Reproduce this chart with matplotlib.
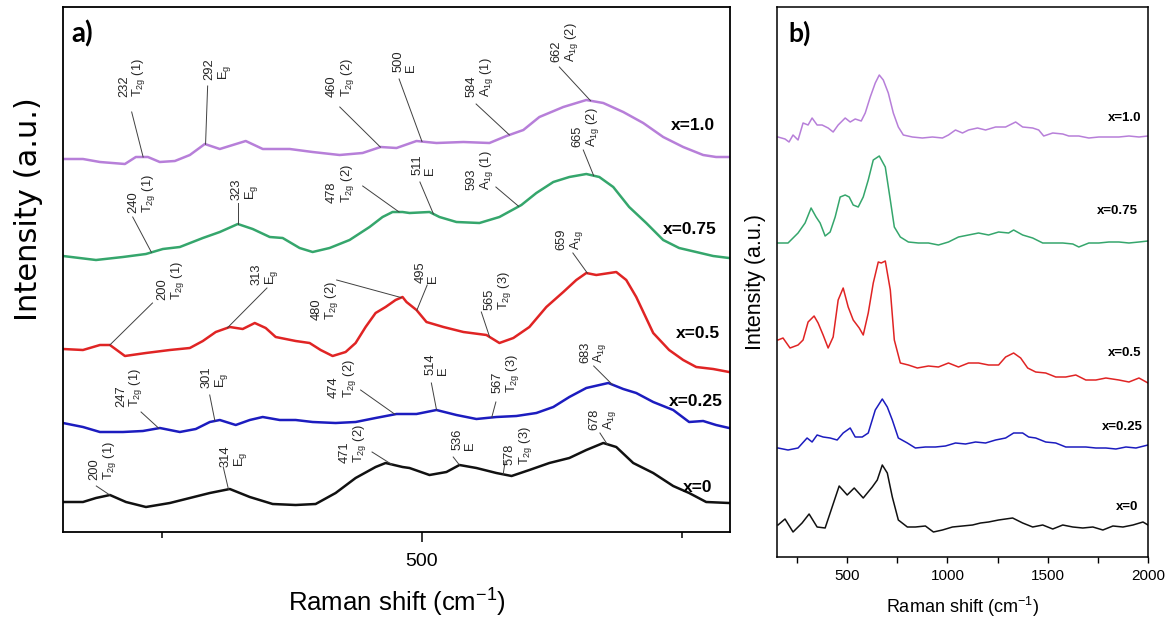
import matplotlib
matplotlib.use('Agg')
import matplotlib.pyplot as plt
import numpy as np
from matplotlib.ticker import MultipleLocator

plt.rcParams['font.family'] = ['Liberation Sans', 'DejaVu Sans']
plt.rcParams['mathtext.fontset'] = 'custom'
plt.rcParams['mathtext.rm'] = 'Liberation Sans'
plt.rcParams['mathtext.it'] = 'Liberation Sans:italic'
plt.rcParams['mathtext.bf'] = 'Liberation Sans:bold'
plt.rcParams['mathtext.default'] = 'regular'

# ---------------- data: panel a (zoomed 155-796 cm-1, offset stacked) ----------------
samples = ["x=0", "x=0.25", "x=0.5", "x=0.75", "x=1.0"]
colors = ["#111111", "#1c1cbf", "#e02424", "#35a66c", "#b77fd9"]

a_x10_shift = [155, 174.2, 190.5, 214.5, 225, 236.6, 248, 262.5, 276.9, 291.3, 305.7, 330.6, 347,
               372.9, 394.9, 420.8, 442.9, 460.2, 475.5, 494.7, 513.9, 539.8, 564.8, 581.1, 597.4,
               612.8, 635.8, 657.9, 674.2, 693.4, 712.6, 731.8, 751, 770.2, 782.6, 795.1]
a_x10_int = [387, 387, 384, 382, 389, 389, 384, 385, 391, 402, 397, 405, 397,
             397, 394, 391, 393, 399, 398, 405, 403, 404, 403, 410, 416,
             429, 439, 446, 443, 434, 423, 409, 399, 391, 389, 389]

a_x075_shift = [155, 186.7, 212.6, 234.7, 251, 267.3, 289.4, 305.7, 323, 337.3, 353.7, 366.1, 382.4,
                394.9, 411.2, 430.4, 449.6, 462.1, 471.7, 481.3, 488, 507.2, 516.8, 533.1, 555.2,
                574.4, 595.5, 609.9, 626.2, 641.6, 657.9, 670.4, 683.8, 699.1, 715.5, 731.8, 747.1,
                763.5, 779.8, 795.1]
a_x075_int = [290, 286, 289, 292, 297, 299, 308, 314, 322, 317, 309, 308, 298,
              294, 298, 306, 319, 329, 334, 334, 333, 334, 329, 324, 323,
              329, 341, 353, 364, 369, 372, 369, 359, 339, 323, 306, 298,
              294, 290, 288]

a_x05_shift = [155, 174.2, 190.5, 200.1, 214.5, 234.7, 257.7, 276.9, 289.4, 301.8, 315.3, 327.7,
               339.3, 349.8, 359.4, 378.6, 392, 402.6, 414.1, 426.6, 436.2, 445.8, 455.4, 465,
               474.6, 481.3, 485.1, 494.7, 504.3, 520.6, 539.8, 561.9, 574.4, 587.8, 603.2,
               619.5, 635.8, 648.3, 657.9, 667.5, 686.7, 696.3, 705.9, 722.2, 737.5, 751, 763.5,
               779.8, 795.1]
a_x05_int = [197, 196, 201, 201, 190, 193, 196, 198, 205, 214, 219, 217,
             223, 218, 209, 205, 203, 196, 190, 194, 203, 219, 233, 239,
             246, 249, 244, 236, 224, 219, 214, 211, 203, 208, 219,
             239, 254, 266, 273, 271, 274, 266, 249, 213, 196, 186, 179,
             177, 174]

a_x025_shift = [155, 174.2, 190.5, 212.6, 231.8, 248.1, 267.3, 282.6, 296.1, 305.7, 321, 334.5,
                346.9, 363.3, 378.6, 394.9, 417, 436.2, 455.4, 475.5, 494.7, 513.9, 533.1, 552.3,
                571.5, 590.7, 609.9, 626.2, 641.6, 657.9, 679, 693.4, 705.9, 722.2, 741.4, 756.7,
                770.2, 782.6, 795.1]
a_x025_int = [123, 119, 114, 114, 115, 118, 114, 117, 124, 126, 121, 126,
              129, 126, 126, 124, 123, 124, 128, 132, 132, 136, 131, 127,
              129, 130, 133, 139, 149, 158, 163, 157, 153, 144, 136, 124,
              125, 121, 118]

a_x0_shift = [155, 174.2, 186.7, 200.1, 215.5, 234.7, 257.7, 276.9, 296.1, 315.3, 334.5, 356.5,
              378.6, 397.8, 417, 436.2, 455.4, 465, 481.3, 488, 507.2, 523.5, 536, 552.3, 571.5,
              586.1, 603.2, 622.4, 641.6, 657.9, 674.2, 686.7, 703, 722.2, 741.4, 756.7, 773.1,
              795.1]
a_x0_int = [44, 44, 48, 51, 44, 39, 43, 48, 53, 57, 49, 42,
            41, 42, 53, 68, 79, 83, 79, 78, 71, 74, 81, 78, 73,
            70, 76, 83, 88, 96, 103, 99, 83, 73, 60, 53, 44,
            43]

a_shifts = [a_x0_shift, a_x025_shift, a_x05_shift, a_x075_shift, a_x10_shift]
a_ints = [a_x0_int, a_x025_int, a_x05_int, a_x075_int, a_x10_int]

# peak assignments (wavenumber, mode) per sample
pk_x10 = [232, 292, 460, 500, 584, 662]
md_x10 = ["T$_{2g}$ (1)", "E$_g$", "T$_{2g}$ (2)", "E", "A$_{1g}$ (1)", "A$_{1g}$ (2)"]
pk_x075 = [240, 323, 478, 511, 593, 665]
md_x075 = ["T$_{2g}$ (1)", "E$_g$", "T$_{2g}$ (2)", "E", "A$_{1g}$ (1)", "A$_{1g}$ (2)"]
pk_x05 = [200, 313, 480, 495, 565, 659]
md_x05 = ["T$_{2g}$ (1)", "E$_g$", "T$_{2g}$ (2)", "E", "T$_{2g}$ (3)", "A$_{1g}$"]
pk_x025 = [247, 301, 474, 514, 567, 683]
md_x025 = ["T$_{2g}$ (1)", "E$_g$", "T$_{2g}$ (2)", "E", "T$_{2g}$ (3)", "A$_{1g}$"]
pk_x0 = [200, 314, 471, 536, 578, 678]
md_x0 = ["T$_{2g}$ (1)", "E$_g$", "T$_{2g}$ (2)", "E", "T$_{2g}$ (3)", "A$_{1g}$"]

# ---------------- data: panel b (full range) ----------------
b_x10_shift = [155, 190, 210, 230, 255, 280, 305, 325, 350, 375, 405, 430, 455, 490, 515, 540, 570,
               590, 615, 640, 660, 680, 705, 730, 755, 780, 825, 875, 925, 975, 1005, 1040, 1075,
               1105, 1150, 1190, 1240, 1290, 1340, 1375, 1425, 1455, 1480, 1525, 1575, 1605, 1655,
               1705, 1755, 1805, 1855, 1905, 1955, 2000]
b_x10_int = [420, 418, 415, 422, 417, 434, 432, 439, 432, 432, 429, 425, 432, 439, 435, 438, 436,
             444, 460, 474, 482, 477, 464, 444, 430, 422, 420, 419, 420, 419, 422, 427, 424,
             427, 429, 427, 430, 430, 435, 430, 429, 427, 421, 424, 423, 421, 421,
             419, 420, 420, 420, 421, 420, 421]

b_x075_shift = [155, 205, 255, 290, 320, 345, 365, 390, 415, 440, 465, 490, 510, 530, 555, 580, 605,
                630, 660, 690, 715, 735, 765, 805, 855, 905, 955, 1005, 1055, 1105, 1155, 1205,
                1255, 1305, 1330, 1375, 1425, 1475, 1525, 1575, 1625, 1655, 1705, 1755, 1805, 1855,
                1905, 1955, 2000]
b_x075_int = [314, 314, 324, 334, 349, 340, 334, 321, 325, 340, 360, 362, 360, 352, 350, 360, 377,
              397, 401, 390, 357, 330, 320, 315, 314, 314, 312, 315, 320, 322, 324, 322,
              325, 324, 327, 322, 319, 314, 314, 314, 313, 310, 314, 314, 315, 315,
              314, 315, 316]

b_x05_shift = [155, 180, 215, 255, 280, 305, 335, 355, 380, 405, 430, 455, 480, 505, 530, 560, 580,
               605, 630, 655, 670, 690, 715, 735, 765, 805, 850, 905, 955, 1005, 1055, 1105, 1155,
               1205, 1255, 1290, 1330, 1365, 1400, 1440, 1490, 1540, 1590, 1640, 1690, 1740, 1790,
               1855, 1905, 1955, 2000]
b_x05_int = [217, 219, 209, 212, 217, 235, 241, 234, 222, 209, 220, 257, 269, 250, 237, 229, 222,
             244, 274, 295, 294, 296, 267, 217, 194, 192, 189, 191, 190, 194, 190, 194, 194,
             192, 192, 200, 204, 199, 189, 185, 184, 180, 180, 182, 177, 177, 179,
             177, 175, 179, 174]

b_x025_shift = [155, 205, 255, 300, 325, 350, 380, 415, 450, 480, 515, 540, 575, 605, 640, 675, 700,
                725, 755, 800, 840, 890, 940, 990, 1040, 1090, 1140, 1190, 1240, 1290, 1330, 1375,
                1405, 1440, 1490, 1540, 1590, 1640, 1690, 1740, 1790, 1840, 1890, 1940, 2000]
b_x025_int = [109, 107, 109, 119, 115, 122, 120, 119, 117, 124, 129, 120, 120, 124, 147, 158, 150,
              137, 119, 114, 109, 110, 110, 111, 114, 113, 115, 114, 117, 119, 124, 124,
              120, 119, 115, 114, 110, 110, 110, 109, 109, 108, 110, 109, 112]

b_x0_shift = [155, 190, 230, 275, 310, 350, 390, 425, 460, 500, 535, 580, 625, 650, 675, 700, 725,
              755, 800, 840, 890, 930, 975, 1025, 1075, 1125, 1165, 1205, 1255, 1325, 1375, 1425,
              1475, 1525, 1575, 1625, 1675, 1725, 1775, 1825, 1875, 1925, 1975, 2000]
b_x0_int = [32, 38, 25, 34, 43, 30, 29, 50, 71, 62, 69, 59, 70, 77, 92, 84, 60,
            37, 30, 30, 31, 25, 27, 30, 31, 32, 34, 35, 37, 39, 34, 30,
            32, 28, 32, 30, 29, 30, 27, 31, 30, 32, 35, 32]

b_shifts = [b_x0_shift, b_x025_shift, b_x05_shift, b_x075_shift, b_x10_shift]
b_ints = [b_x0_int, b_x025_int, b_x05_int, b_x075_int, b_x10_int]

# ---------------- layout ----------------
fig = plt.figure(figsize=(11.7, 6.26), dpi=100)
W, H = 1170.0, 626.0
axa = fig.add_axes([63 / W, 1 - 532 / H, (730 - 63) / W, (532 - 7) / H])
axb = fig.add_axes([777 / W, 1 - 557 / H, (1148 - 777) / W, (557 - 7) / H])

# ---- panel a ----
for sx, sy, c in zip(a_shifts, a_ints, colors):
    axa.plot(sx, sy, color=c, lw=1.8, solid_joinstyle='round')

axa.set_xlim(155, 796)
axa.set_ylim(14, 539)
axa.set_yticks([])
axa.xaxis.set_major_locator(MultipleLocator(500))
axa.xaxis.set_minor_locator(MultipleLocator(250))
axa.tick_params(axis='x', which='major', direction='out', length=7, width=1.1, labelsize=14, pad=8)
axa.tick_params(axis='x', which='minor', direction='out', length=4, width=1.1)
for sp in axa.spines.values():
    sp.set_linewidth(1.3)
axa.set_xlabel("Raman shift (cm$^{-1}$)", fontsize=18.5, labelpad=12)
axa.set_ylabel("Intensity (a.u.)", fontsize=22, family=['DejaVu Sans'])
axa.yaxis.set_label_coords(-0.03, 0.615)

# annotation layout: (text x, text y bottom), (leader start x, y)
ann_layout = [
    (pk_x10, md_x10, a_x10_shift, a_x10_int,
     [(222, 449), (304, 466), (422, 449), (483, 474), (556, 449), (638, 484)],
     [(221, 434), (294, 460), (421, 439), (478, 467), (552, 442), (632, 479)]),
    (pk_x075, md_x075, a_x075_shift, a_x075_int,
     [(231, 333), (330, 346), (422, 343), (502, 371), (556, 356), (658, 399)],
     [(222, 329), (323, 343), (443, 360), (498, 364), (571, 359), (655, 396)]),
    (pk_x05, md_x05, a_x05_shift, a_x05_int,
     [(259, 246), (349, 261), (407, 226), (505, 263), (573, 236), (642, 296)],
     [(241, 243), (351, 258), (418, 266), (505, 261), (557, 234), (645, 293)]),
    (pk_x025, md_x025, a_x025_shift, a_x025_int,
     [(219, 139), (301, 158), (424, 148), (514, 171), (581, 153), (665, 183)],
     [(230, 134), (296, 151), (441, 156), (509, 163), (571, 144), (665, 180)]),
    (pk_x0, md_x0, a_x0_shift, a_x0_int,
     [(194, 66), (320, 79), (434, 83), (540, 96), (593, 81), (674, 116)],
     [(187, 60), (309, 79), (452, 94), (530, 89), (580, 85), (671, 113)]),
]
for pks, mds, sx, sy, tpos, lpos in ann_layout:
    for p, m, (tx, ty), (lx, ly) in zip(pks, mds, tpos, lpos):
        yy = np.interp(p, sx, sy)
        axa.plot([lx, p], [ly, yy], color='0.25', lw=0.7)
        axa.text(tx, ty, f"{p}\n{m}", rotation=90, ha='center', va='bottom',
                 multialignment='left', fontsize=9.3, color='0.15', linespacing=1.05)

a_label_pos = [(779, 59), (789, 144), (786, 213), (783, 316), (782, 421)]
for s, (lx, ly) in zip(samples, a_label_pos):
    axa.text(lx, ly, s, ha='right', va='center', fontsize=12.5, fontweight='bold')

axa.text(0.012, 0.975, "a)", transform=axa.transAxes, ha='left', va='top',
         fontsize=20, fontweight='bold', family=['Lato', 'DejaVu Sans'])

# ---- panel b ----
for sx, sy, c in zip(b_shifts, b_ints, colors):
    axb.plot(sx, sy, color=c, lw=1.1)

axb.set_xlim(150, 2000)
axb.set_ylim(0, 550)
axb.set_yticks([])
axb.xaxis.set_major_locator(MultipleLocator(500))
axb.xaxis.set_minor_locator(MultipleLocator(250))
axb.tick_params(axis='x', which='major', direction='out', length=4, width=1.0, labelsize=11, pad=5)
axb.tick_params(axis='x', which='minor', direction='out', length=4, width=1.0)
for sp in axb.spines.values():
    sp.set_linewidth(1.1)
axb.set_xlabel("Raman shift (cm$^{-1}$)", fontsize=13, labelpad=8)
axb.set_ylabel("Intensity (a.u.)", fontsize=15.5, labelpad=8)

b_label_pos = [(1950, 50), (1975, 130), (1965, 204), (1950, 346), (1965, 439)]
for s, (lx, ly) in zip(samples, b_label_pos):
    axb.text(lx, ly, s, ha='right', va='center', fontsize=9.5, fontweight='bold')

axb.text(0.03, 0.975, "b)", transform=axb.transAxes, ha='left', va='top',
         fontsize=19, fontweight='bold', family=['Lato', 'DejaVu Sans'])

fig.savefig("out.png", dpi=100)
